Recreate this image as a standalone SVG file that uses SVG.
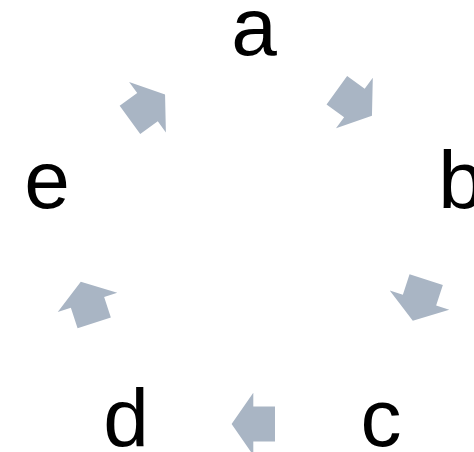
<svg xmlns="http://www.w3.org/2000/svg" width="474" height="452" viewBox="0 0 474 452">
<style>
.lbl{font-family:"Liberation Sans",Arial,sans-serif;font-size:82px;fill:#000;text-anchor:middle}
.arr{fill:#A9B5C4}
</style>
<defs>
<path id="blk" d="M-21.7,-17.5 L0,-17.5 L0,-31.3 L21.7,0 L0,31.3 L0,17.5 L-21.7,17.5 Z"/>
</defs>
<rect width="474" height="452" fill="#fff"/>
<g id="connectors">
<use href="#blk" class="arr" transform="translate(354.4,103) rotate(36)"/>
<use href="#blk" class="arr" transform="translate(419.5,300.2) rotate(108)"/>
<use href="#blk" class="arr" transform="translate(253.3,424) rotate(180)"/>
<use href="#blk" class="arr" transform="translate(87.5,302.3) rotate(252)"/>
<use href="#blk" class="arr" transform="translate(147.5,107.2) rotate(324)"/>
</g>
<g id="node-a"><text class="lbl" x="254" y="55">a</text></g>
<g id="node-b"><text class="lbl" x="461" y="208">b</text></g>
<g id="node-c"><text class="lbl" x="381" y="446">c</text></g>
<g id="node-d"><text class="lbl" x="126" y="446">d</text></g>
<g id="node-e"><text class="lbl" x="47" y="208">e</text></g>
</svg>
